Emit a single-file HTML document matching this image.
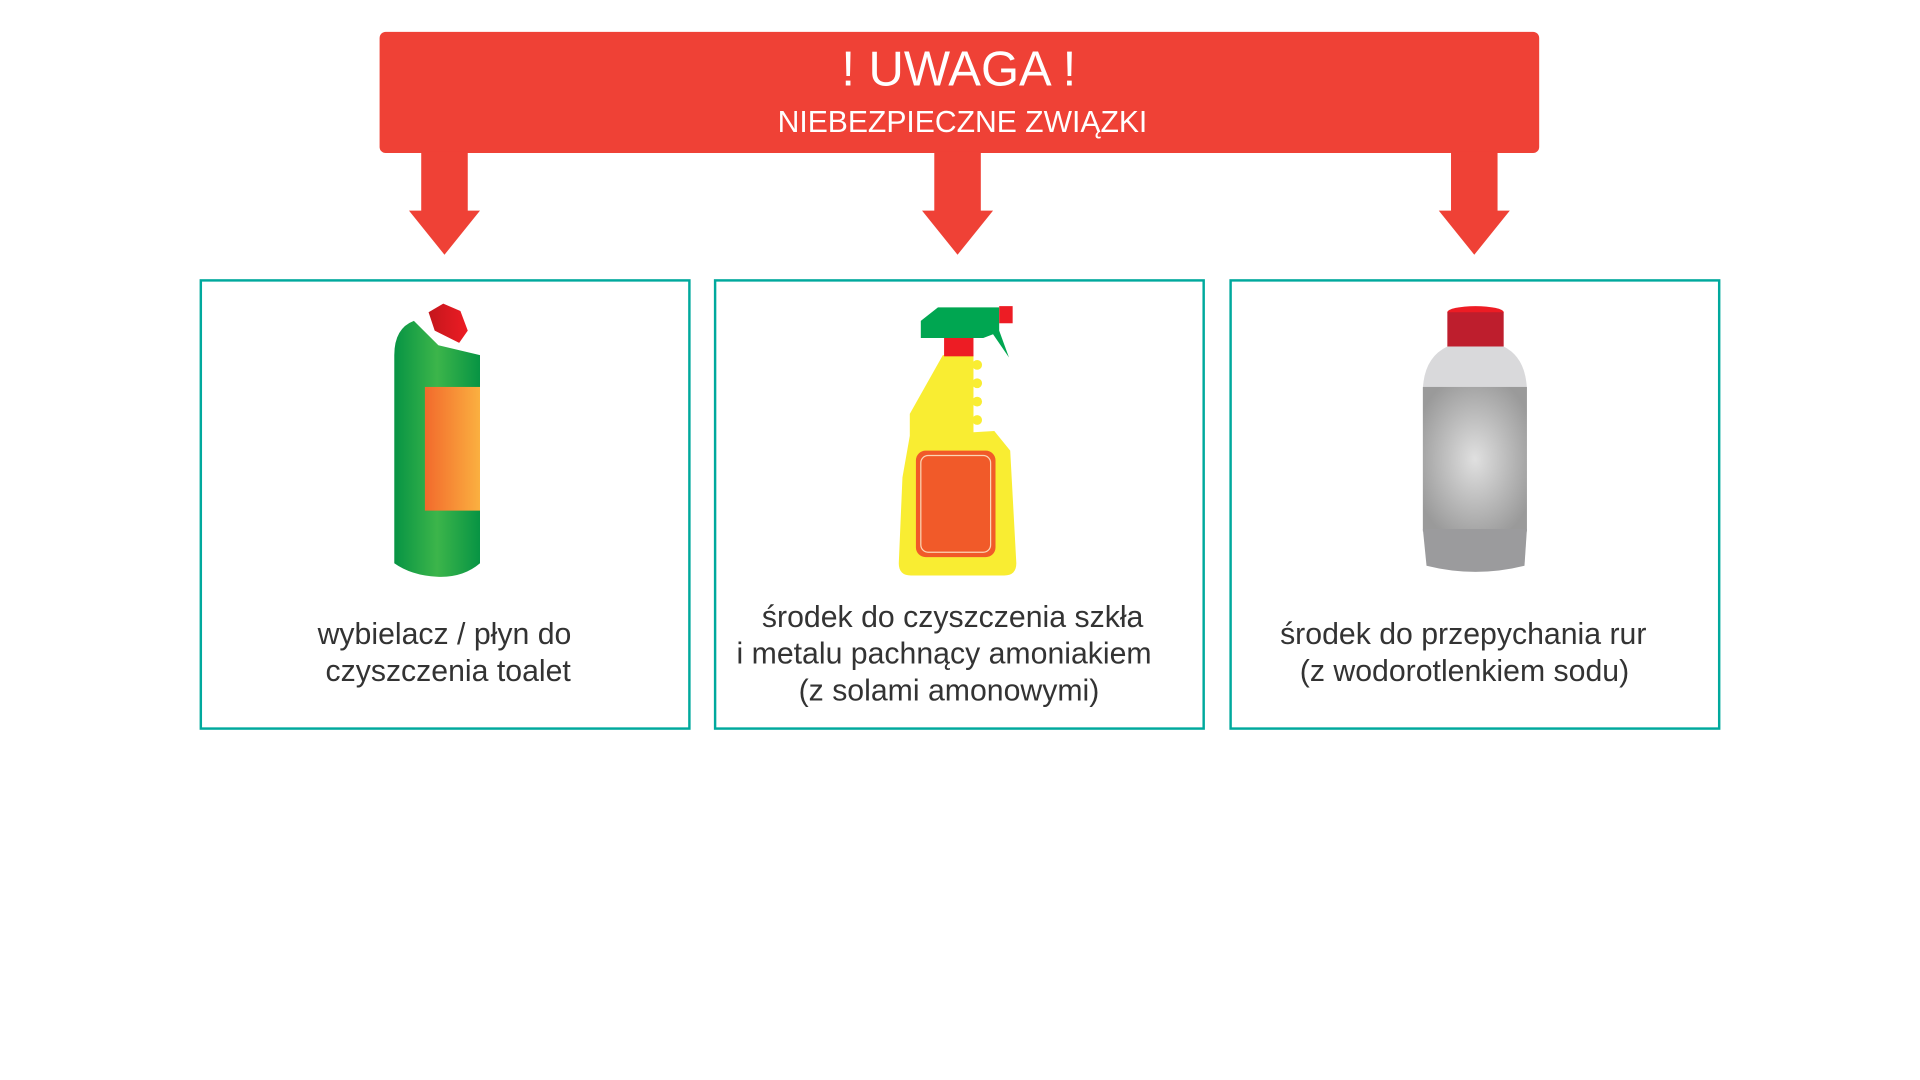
<!DOCTYPE html>
<html><head><meta charset="utf-8"><style>
html,body{margin:0;padding:0;background:#fff;}
svg{display:block}
text{font-family:"Liberation Sans",Arial,sans-serif;}
</style></head><body>
<svg width="1920" height="1080" viewBox="0 0 1568 882" xmlns="http://www.w3.org/2000/svg">
<defs>
<linearGradient id="gg" x1="0" x2="1"><stop offset="0" stop-color="#079444"/><stop offset="0.5" stop-color="#3cb54a"/><stop offset="1" stop-color="#079444"/></linearGradient>
<linearGradient id="og" x1="0" x2="1"><stop offset="0" stop-color="#f26a2c"/><stop offset="1" stop-color="#fbb040"/></linearGradient>
<linearGradient id="rg" x1="0" x2="1"><stop offset="0" stop-color="#c4161c"/><stop offset="1" stop-color="#ed1c24"/></linearGradient>
<radialGradient id="sg" cx="0.5" cy="0.5" r="0.6"><stop offset="0" stop-color="#e0e0e0"/><stop offset="1" stop-color="#9a9a9a"/></radialGradient>
</defs>
<rect width="1568" height="882" fill="#fff"/>
<rect x="310" y="26" width="947" height="99" rx="5" fill="#ef4136"/>
<text x="783" y="70" font-size="40" fill="#fff" text-anchor="middle">! UWAGA !</text>
<text x="786" y="108" font-size="24.6" fill="#fff" text-anchor="middle">NIEBEZPIECZNE ZWIĄZKI</text>
<g fill="#ef4136">
<polygon points="344,124 382,124 382,172 392,172 363,208 334,172 344,172"/>
<polygon points="763,124 801,124 801,172 811,172 782,208 753,172 763,172"/>
<polygon points="1185,124 1223,124 1223,172 1233,172 1204,208 1175,172 1185,172"/>
</g>
<g fill="none" stroke="#00a99d" stroke-width="2">
<rect x="164" y="229" width="399" height="366"/>
<rect x="584" y="229" width="399" height="366"/>
<rect x="1005" y="229" width="399" height="366"/>
</g>
<g font-size="24.7" fill="#333" text-anchor="middle">
<text x="363" y="526">wybielacz / płyn do</text>
<text x="366" y="556">czyszczenia toalet</text>
<text x="778" y="512">środek do czyszczenia szkła</text>
<text x="771" y="542">i metalu pachnący amoniakiem</text>
<text x="775" y="572">(z solami amonowymi)</text>
<text x="1195" y="526">środek do przepychania rur</text>
<text x="1196" y="556">(z wodorotlenkiem sodu)</text>
</g>
<!-- green bottle -->
<polygon points="350,255 362,248 376,254 382,270 375,280 355,270" fill="url(#rg)"/>
<path d="M322,290 Q322,268 338,262 L358,282 L392,290 L392,460 Q378,472 357,471 Q336,470 322,460 Z" fill="url(#gg)"/>
<rect x="347" y="316" width="45" height="101" fill="url(#og)"/>
<!-- spray bottle -->
<path d="M770,290 L795,290 L795,353 L812,352 L825,368 L830,460 Q830,470 820,470 L744,470 Q734,470 734,460 L737,390 L743,356 L743,338 Z" fill="#f9ed32"/>
<circle cx="798" cy="298" r="4" fill="#f9ed32"/><circle cx="798" cy="313" r="4" fill="#f9ed32"/><circle cx="798" cy="328" r="4" fill="#f9ed32"/><circle cx="798" cy="343" r="4" fill="#f9ed32"/>
<rect x="771" y="276" width="24" height="15" fill="#ed1c24"/>
<polygon points="766,251 816,251 816,270 824,292 811,273 803,276 752,276 752,262" fill="#00a651"/>
<rect x="816" y="250" width="11" height="14" fill="#ed1c24"/>
<rect x="748" y="368" width="65" height="87" rx="8" fill="#f15a29"/>
<rect x="752" y="372" width="57" height="79" rx="6" fill="none" stroke="#fbd5b5" stroke-width="1"/>
<!-- gray bottle -->
<ellipse cx="1205" cy="255" rx="23" ry="5" fill="#ed1c24"/>
<rect x="1182" y="255" width="46" height="28" fill="#be1e2d"/>
<path d="M1182,283 L1228,283 Q1246,292 1247,318 L1162,318 Q1163,292 1182,283 Z" fill="#d9d9db"/>
<rect x="1162" y="316" width="85" height="118" fill="url(#sg)"/>
<path d="M1162,432 L1247,432 L1245,462 Q1205,472 1165,462 Z" fill="#9b9b9d"/>
</svg>
</body></html>
